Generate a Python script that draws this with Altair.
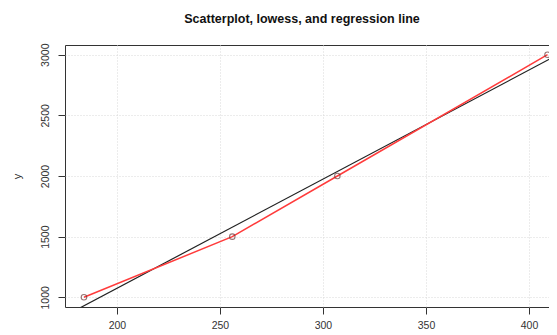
import altair as alt
import pandas as pd

x_vals = [184, 256, 307, 409]
y_vals = [1000, 1500, 2000, 3000]
lowess_y = [1000, 1500, 2000, 3000]
x_ticks = [200, 250, 300, 350, 400]
y_ticks = [1000, 1500, 2000, 2500, 3000]

df = pd.DataFrame({"x": x_vals, "y": y_vals, "ly": lowess_y})

FONT = "Liberation Sans"
xs = alt.Scale(domain=[174.8, 413.6], nice=False, zero=False)
ys = alt.Scale(domain=[920, 3080], nice=False, zero=False)

xaxis = alt.Axis(values=x_ticks, title=None, grid=True, gridDash=[1, 2], gridColor="#d8d8d8",
                 domain=False, tickColor="#333", tickSize=7, labelPadding=6, format="d",
                 labelFont=FONT, labelFontSize=10.5, labelColor="#333")
yaxis = alt.Axis(values=y_ticks, title="y", grid=True, gridDash=[1, 2], gridColor="#d8d8d8",
                 domain=False, tickColor="#333", tickSize=7, labelAngle=-90, format="d",
                 labelAlign="center", labelBaseline="bottom", labelPadding=8,
                 labelFont=FONT, labelFontSize=10.5, labelColor="#333",
                 titleFont=FONT, titleFontSize=11, titleFontWeight="normal", titleColor="#333",
                 titlePadding=18)

base = alt.Chart(df)

reg = base.transform_regression("x", "y", extent=[174.8, 413.6]).mark_line(
    color="#222", strokeWidth=1.2, clip=True
).encode(x=alt.X("x:Q", scale=xs, axis=xaxis), y=alt.Y("y:Q", scale=ys, axis=yaxis))

low = base.mark_line(color="#ff3b3b", strokeWidth=1.5, clip=True).encode(
    x=alt.X("x:Q", scale=xs), y=alt.Y("ly:Q", scale=ys)
)

pts = base.mark_point(shape="circle", filled=False, color="#6a3a3a", size=30, strokeWidth=1.1, clip=True).encode(
    x=alt.X("x:Q", scale=xs), y=alt.Y("y:Q", scale=ys)
)

chart = alt.layer(reg, low, pts).properties(
    width=492, height=262,
    title=alt.TitleParams("Scatterplot, lowess, and regression line", font=FONT, fontSize=12.5,
                          fontWeight="bold", color="#111", dx=-9, offset=18),
    autosize=alt.AutoSizeParams(type="none"),
    padding={"left": 57, "top": 37, "right": -8, "bottom": 28},
).configure_view(stroke="#333", strokeWidth=1)

chart.save("out.html", embed_options={"renderer": "svg", "actions": False})
